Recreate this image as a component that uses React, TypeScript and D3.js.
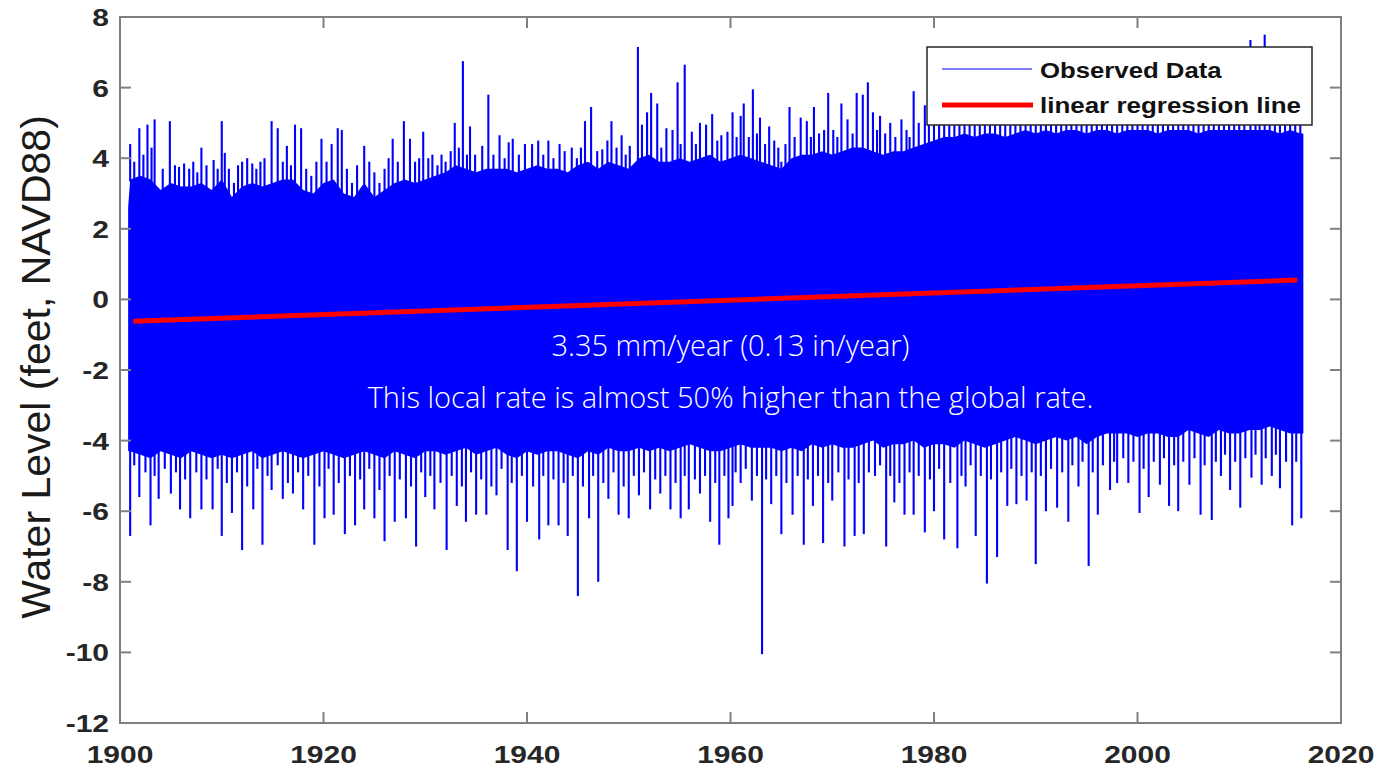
import React from "react";
import * as d3 from "d3";

// ---------- DATA ----------
const xTicks = [1900, 1920, 1940, 1960, 1980, 2000, 2020];
const yTicks = [-12, -10, -8, -6, -4, -2, 0, 2, 4, 6, 8];

// record span (decimal years)
const recordStart = 1900.8;
const recordEnd = 2016.3;
const firstYear = 1901;

// Upper edge of the dense tidal band, one value per year from 1901 (feet)
const upperFringe = [
  3.4, 3.5, 3.4, 3.1, 3.3, 3.2, 3.2, 3.3, 3.1, 3.4,
  2.9, 3.2, 3.3, 3.2, 3.3, 3.4, 3.4, 3.1, 3.0, 3.3,
  3.4, 3.0, 2.9, 3.3, 2.9, 3.1, 3.3, 3.4, 3.3, 3.4,
  3.5, 3.6, 3.8, 3.7, 3.6, 3.7, 3.7, 3.7, 3.6, 3.7,
  3.8, 3.7, 3.7, 3.6, 3.8, 3.9, 3.7, 3.9, 3.8, 3.7,
  4.0, 4.1, 3.9, 3.9, 4.0, 3.9, 4.0, 4.1, 3.9, 4.0,
  4.1, 4.0, 3.9, 3.8, 3.7, 4.0, 4.1, 4.1, 4.2, 4.1,
  4.2, 4.3, 4.3, 4.2, 4.1, 4.2, 4.2, 4.3, 4.4, 4.5,
  4.6, 4.6, 4.7, 4.6, 4.7, 4.7, 4.6, 4.7, 4.8, 4.7,
  4.8, 4.7, 4.8, 4.8, 4.7, 4.8, 4.8, 4.7, 4.8, 4.8,
  4.8, 4.7, 4.8, 4.8, 4.8, 4.7, 4.8, 4.8, 4.8, 4.8,
  4.8, 4.8, 4.8, 4.7, 4.8, 4.7,
];
// Lower edge of the dense tidal band, one value per year from 1901 (feet)
const lowerFringe = [
  -4.3, -4.4, -4.5, -4.3, -4.4, -4.5, -4.3, -4.4, -4.5, -4.4,
  -4.5, -4.4, -4.3, -4.5, -4.4, -4.3, -4.4, -4.5, -4.4, -4.3,
  -4.4, -4.5, -4.4, -4.3, -4.4, -4.5, -4.3, -4.4, -4.5, -4.3,
  -4.3, -4.4, -4.3, -4.2, -4.4, -4.3, -4.2, -4.4, -4.5, -4.3,
  -4.4, -4.3, -4.3, -4.4, -4.5, -4.3, -4.4, -4.2, -4.3, -4.3,
  -4.2, -4.3, -4.2, -4.3, -4.2, -4.1, -4.2, -4.3, -4.3, -4.2,
  -4.1, -4.2, -4.2, -4.2, -4.3, -4.2, -4.3, -4.1, -4.2, -4.1,
  -4.2, -4.2, -4.1, -4.0, -4.2, -4.1, -4.1, -4.0, -4.2, -4.1,
  -4.1, -4.2, -4.0, -4.1, -4.2, -4.1, -4.0, -3.9, -4.0, -4.1,
  -4.0, -3.9, -4.0, -3.9, -4.1, -3.9, -3.8, -3.8, -3.8, -3.9,
  -3.8, -3.8, -3.9, -3.9, -3.7, -3.8, -3.9, -3.7, -3.8, -3.8,
  -3.7, -3.7, -3.6, -3.7, -3.8, -3.8,
];

// High water spikes [year, feet]
const highTides: [number, number][] = [
  [1901.0, 4.4], [1901.4, 3.9], [1901.9, 4.85], [1902.3, 4.1], [1902.7, 4.95], [1903.1, 4.3], [1903.4, 5.1],
  [1904.2, 3.7], [1904.9, 5.05], [1905.4, 3.8], [1905.8, 3.75], [1906.3, 3.85], [1906.8, 3.7], [1907.2, 3.9],
  [1907.6, 3.6], [1908.0, 4.3], [1908.5, 3.8], [1909.2, 3.95], [1909.6, 3.7], [1910.0, 5.05], [1910.3, 4.15],
  [1910.7, 3.7], [1911.2, 3.3], [1911.6, 3.8], [1912.0, 3.9], [1912.5, 4.0], [1913.0, 3.85], [1913.4, 3.7],
  [1913.8, 3.9], [1914.2, 4.0], [1914.9, 5.05], [1915.5, 4.85], [1916.0, 3.9], [1916.4, 4.35], [1916.8, 3.8],
  [1917.2, 4.95], [1917.8, 4.85], [1918.3, 3.7], [1918.8, 3.5], [1919.3, 3.9], [1919.8, 4.55], [1920.3, 3.9],
  [1920.8, 4.4], [1921.4, 4.85], [1921.8, 4.8], [1922.3, 3.7], [1922.8, 3.3], [1923.3, 3.8], [1924.0, 4.35],
  [1924.5, 3.9], [1925.0, 3.6], [1925.5, 3.3], [1926.0, 3.7], [1926.4, 4.0], [1926.8, 4.55], [1927.3, 3.9],
  [1927.9, 5.05], [1928.5, 4.55], [1929.0, 3.9], [1929.4, 4.0], [1929.8, 4.75], [1930.3, 4.0], [1930.7, 4.1],
  [1931.2, 3.8], [1931.6, 4.1], [1932.0, 3.9], [1932.5, 4.2], [1932.9, 5.0], [1933.3, 4.3], [1933.7, 6.75],
  [1934.1, 4.1], [1934.4, 4.9], [1934.9, 4.1], [1935.6, 4.35], [1936.2, 5.8], [1936.7, 4.1], [1937.3, 4.65],
  [1937.8, 4.0], [1938.2, 4.45], [1938.6, 4.55], [1939.2, 4.1], [1939.8, 4.4], [1940.5, 4.4], [1941.1, 4.5],
  [1941.6, 4.1], [1942.1, 4.5], [1942.6, 4.0], [1943.2, 4.4], [1943.7, 4.2], [1944.4, 4.3], [1944.9, 4.0],
  [1945.3, 4.3], [1945.7, 5.05], [1946.3, 5.45], [1946.9, 4.2], [1947.4, 4.25], [1947.9, 4.5], [1948.3, 5.05],
  [1948.8, 4.3], [1949.3, 4.65], [1949.7, 4.1], [1950.1, 4.35], [1950.9, 7.15], [1951.3, 4.95], [1951.8, 5.3],
  [1952.2, 5.85], [1952.8, 5.55], [1953.2, 4.3], [1953.7, 4.85], [1954.3, 4.8], [1954.8, 6.15], [1955.1, 4.4],
  [1955.5, 6.65], [1956.2, 4.75], [1956.6, 4.4], [1957.0, 5.0], [1957.6, 4.95], [1958.2, 5.25], [1958.7, 4.5],
  [1959.1, 4.65], [1959.7, 4.75],
  [1960.2, 5.3], [1960.6, 4.6], [1961.0, 5.2], [1961.3, 5.55], [1961.8, 4.6], [1962.2, 5.95], [1962.6, 4.7],
  [1962.9, 5.15], [1963.4, 4.4], [1963.8, 4.9], [1964.3, 4.5], [1964.7, 4.3], [1965.0, 3.9], [1965.4, 4.4],
  [1965.8, 5.45], [1966.3, 4.6], [1966.9, 5.15], [1967.5, 5.05], [1967.9, 4.6], [1968.2, 5.45], [1968.7, 4.7],
  [1969.2, 4.8], [1969.6, 5.85], [1970.1, 4.8], [1970.5, 4.6], [1970.9, 5.55], [1971.5, 5.1], [1972.0, 4.7],
  [1972.4, 5.85], [1973.0, 5.8], [1973.5, 6.15], [1974.0, 5.3], [1974.4, 4.8], [1974.7, 5.2], [1975.2, 4.7],
  [1975.7, 5.0], [1976.2, 4.6], [1976.8, 5.1], [1977.3, 4.8], [1977.6, 4.6], [1978.0, 5.9], [1978.5, 5.0],
  [1979.1, 5.5], [1979.5, 5.9], [1980.0, 5.2],
  [1980.5, 5.3], [1981.0, 5.1], [1981.5, 5.6], [1982.0, 5.0], [1982.5, 5.4], [1983.0, 5.2], [1983.5, 5.5],
  [1984.0, 5.0], [1984.5, 5.3], [1985.0, 5.6], [1985.5, 5.1], [1986.0, 5.4], [1986.5, 5.0], [1987.0, 5.5],
  [1987.5, 5.2], [1988.0, 5.3], [1988.5, 5.1], [1989.0, 5.5], [1989.5, 5.2], [1990.0, 5.4], [1990.5, 5.0],
  [1991.0, 5.6], [1991.5, 5.2], [1992.0, 5.5], [1992.5, 5.3], [1993.0, 5.7], [1993.5, 5.1], [1994.0, 5.4],
  [1994.5, 5.2], [1995.0, 5.5], [1995.5, 5.1], [1996.0, 5.6], [1996.5, 5.3], [1997.0, 5.8], [1997.5, 5.2],
  [1998.0, 5.6], [1998.5, 5.4], [1999.0, 5.7], [1999.5, 5.2], [2000.0, 5.5], [2000.5, 5.3], [2001.0, 5.6],
  [2001.5, 5.2], [2002.0, 5.5], [2002.5, 5.3], [2003.0, 5.8], [2003.5, 5.4], [2004.0, 5.6], [2004.5, 5.2],
  [2005.0, 5.7], [2005.5, 5.3], [2006.0, 5.6], [2006.5, 5.4], [2007.0, 5.5], [2007.5, 5.3], [2008.0, 5.7],
  [2008.5, 5.2], [2009.0, 5.8], [2009.5, 5.4], [2010.0, 5.6], [2010.5, 5.3], [2011.1, 7.35], [2011.6, 5.5],
  [2012.0, 5.7], [2012.5, 7.5], [2013.0, 5.6], [2013.5, 5.4], [2014.0, 5.7], [2014.5, 5.3], [2015.0, 5.6],
  [2015.5, 5.5], [2016.0, 5.2],
];

// Low water spikes [year, feet]
const lowTides: [number, number][] = [
  [1901.0, -6.7], [1901.4, -4.7], [1901.9, -5.6], [1902.5, -4.9], [1903.0, -6.4], [1903.4, -5.0], [1903.8, -5.65],
  [1904.4, -4.8], [1905.0, -5.5], [1905.5, -4.9], [1905.9, -5.95], [1906.4, -5.1], [1906.9, -6.2], [1907.5, -4.9],
  [1908.0, -5.95], [1908.5, -5.1], [1909.1, -5.95], [1909.6, -4.8], [1910.0, -6.7], [1910.5, -5.2], [1911.0, -6.05],
  [1911.5, -4.9], [1912.0, -7.1], [1912.5, -5.3], [1913.1, -5.95], [1913.5, -4.8], [1914.0, -6.95], [1914.5, -5.0],
  [1914.9, -5.4], [1915.5, -4.7], [1916.0, -5.65], [1916.5, -5.2], [1917.0, -5.5], [1917.5, -4.9], [1918.0, -5.95],
  [1918.5, -5.0], [1919.1, -6.95], [1919.6, -5.3], [1920.1, -6.2], [1920.5, -4.8], [1921.0, -6.1], [1921.5, -5.2],
  [1922.1, -6.65], [1922.6, -5.0], [1923.1, -6.4], [1923.6, -5.1], [1924.0, -5.95], [1924.5, -4.8], [1925.0, -6.2],
  [1925.5, -5.4], [1926.0, -6.85], [1926.5, -5.0], [1927.0, -6.3], [1927.5, -5.1], [1928.1, -6.2], [1928.6, -5.3],
  [1929.1, -7.0], [1929.6, -4.9], [1930.0, -5.6], [1930.5, -5.0], [1930.9, -5.95], [1931.5, -5.2], [1932.1, -7.1],
  [1932.6, -5.0], [1933.1, -5.85], [1933.6, -5.3], [1934.0, -6.3], [1934.5, -4.9], [1935.0, -6.1], [1935.5, -5.1],
  [1936.0, -6.1], [1936.5, -5.3], [1937.0, -5.55], [1937.5, -4.8], [1938.1, -7.1], [1938.5, -5.2], [1939.0, -7.7],
  [1939.5, -5.0], [1940.0, -6.3], [1940.6, -5.3], [1941.2, -6.8], [1941.6, -5.0], [1942.1, -6.4], [1942.6, -5.1],
  [1943.1, -6.4], [1943.6, -5.2], [1944.0, -6.7], [1944.5, -5.0], [1945.0, -8.4], [1945.5, -5.3], [1946.1, -6.2],
  [1946.5, -5.0], [1947.0, -8.0], [1947.5, -5.2], [1948.0, -5.65], [1948.5, -4.9], [1949.0, -6.1], [1949.5, -5.3],
  [1950.0, -6.2], [1950.5, -5.0], [1951.0, -5.55], [1951.5, -4.9], [1952.1, -5.95], [1952.6, -5.1], [1953.1, -5.5],
  [1953.6, -5.0], [1954.1, -5.95], [1954.6, -5.2], [1955.1, -6.2], [1955.5, -5.0], [1955.9, -5.95], [1956.5, -5.1],
  [1957.0, -5.5], [1957.5, -5.0], [1958.0, -6.3], [1958.5, -5.2], [1958.9, -6.95], [1959.4, -5.0], [1959.8, -6.2],
  [1960.2, -5.85], [1960.5, -4.9], [1961.0, -5.2], [1961.5, -4.8], [1962.1, -5.7], [1962.6, -5.0], [1963.1, -10.05],
  [1963.5, -5.1], [1964.0, -5.8], [1964.5, -5.0], [1965.0, -6.65], [1965.5, -5.2], [1966.1, -6.1], [1966.6, -5.0],
  [1967.2, -6.95], [1967.6, -5.1], [1968.1, -5.85], [1968.6, -5.0], [1969.1, -6.9], [1969.6, -5.2], [1970.0, -5.7],
  [1970.6, -4.9], [1971.2, -7.0], [1971.6, -5.1], [1972.2, -6.7], [1972.6, -5.2], [1973.1, -6.65], [1973.6, -4.9],
  [1974.2, -5.0], [1974.7, -4.7], [1975.3, -7.0], [1975.7, -5.0], [1976.1, -5.75], [1976.6, -5.2], [1977.1, -6.1],
  [1977.6, -4.9], [1978.0, -6.1], [1978.5, -5.0], [1979.1, -6.6], [1979.6, -5.1], [1980.0, -6.0], [1980.5, -4.8],
  [1981.0, -6.8], [1981.6, -5.2], [1982.3, -7.05], [1982.7, -5.0], [1983.1, -5.3], [1983.6, -4.7], [1984.1, -6.7],
  [1984.6, -5.0], [1985.2, -8.05], [1985.6, -5.1], [1986.2, -7.3], [1986.6, -4.9], [1987.2, -5.85], [1987.6, -4.8],
  [1988.1, -5.8], [1988.6, -5.0], [1989.1, -5.7], [1989.6, -4.9], [1990.0, -7.5], [1990.5, -5.0], [1991.0, -6.0],
  [1991.5, -4.8], [1992.1, -5.9], [1992.6, -4.9], [1993.2, -6.3], [1993.6, -4.7], [1994.2, -5.3], [1994.6, -4.6],
  [1995.2, -7.55], [1995.6, -4.9], [1996.1, -6.1], [1996.6, -4.7], [1997.3, -5.4], [1997.7, -4.6], [1998.0, -5.2],
  [1998.6, -4.5], [1999.1, -5.2], [1999.6, -4.6], [2000.2, -6.05], [2000.6, -4.8], [2001.1, -5.6], [2001.6, -4.6],
  [2002.2, -5.25], [2002.6, -4.5], [2003.1, -5.85], [2003.6, -4.7], [2004.0, -6.0], [2004.5, -4.6], [2005.1, -5.25],
  [2005.6, -4.5], [2006.2, -6.1], [2006.6, -4.7], [2007.3, -6.25], [2007.7, -4.6], [2008.2, -5.0], [2008.6, -4.4],
  [2009.1, -5.4], [2009.6, -4.6], [2010.1, -5.9], [2010.6, -4.5], [2011.2, -5.05], [2011.6, -4.4], [2012.2, -5.25],
  [2012.6, -4.5], [2013.2, -5.0], [2013.6, -4.4], [2014.0, -5.35], [2014.6, -4.6], [2015.2, -6.4], [2015.6, -4.6],
  [2016.1, -6.2],
];

// Linear regression line endpoints [year, feet]
const regression: [number, number][] = [[1901.3, -0.62], [2015.7, 0.55]];

const legendLabels = ["Observed Data", "linear regression line"];
const annotation = ["3.35 mm/year (0.13 in/year)", "This local rate is almost 50% higher than the global rate."];
const yTitle = "Water Level (feet, NAVD88)";

// ---------- CHART ----------
const W = 1379, H = 768;
const L = 120, R = 1341, T = 17, B = 723;
const BLUE = "#0000ff";
const AX = "#808080";
const TXT = "#262626";

export default function App() {
  const x = d3.scaleLinear().domain([1900, 2020]).range([L, R]);
  const y = d3.scaleLinear().domain([-12, 8]).range([B, T]);

  const upPts: [number, number][] = upperFringe.map((v, i) => [firstYear + i, v]);
  const loPts: [number, number][] = lowerFringe.map((v, i) => [firstYear + i, v]);
  const upAt = d3.scaleLinear().domain(upPts.map(d => d[0])).range(upPts.map(d => d[1])).clamp(true);
  const loAt = d3.scaleLinear().domain(loPts.map(d => d[0])).range(loPts.map(d => d[1])).clamp(true);

  const top: [number, number][] = [[recordStart, 2.6], ...upPts.filter(d => d[0] < recordEnd), [recordEnd, upAt(recordEnd)]];
  const bottom: [number, number][] = [[recordStart, loAt(recordStart)], ...loPts.filter(d => d[0] < recordEnd), [recordEnd, loAt(recordEnd)]];
  const px = (d: [number, number]) => [x(d[0]), y(d[1])] as [number, number];
  const bandPath = d3.line()([...top.map(px), ...bottom.slice().reverse().map(px)]) + "Z";
  const regLine = d3.line<[number, number]>().x(d => x(d[0])).y(d => y(d[1]))(regression) || "";

  const fontTick = "'Liberation Sans', Arial, sans-serif";
  const tickLen = 11;

  return (
    <svg width={W} height={H} style={{ position: "absolute", left: 0, top: 0, background: "#fff" }}>
      <rect x={0} y={0} width={W} height={H} fill="#fff" />
      {/* data */}
      <g>
        <path d={bandPath} fill={BLUE} />
        {highTides.map((d, i) => (
          <line key={"h" + i} x1={x(d[0])} x2={x(d[0])} y1={y(Math.min(upAt(d[0]), d[1])) + 2} y2={y(d[1])}
            stroke={BLUE} strokeWidth={2.1} />
        ))}
        {lowTides.map((d, i) => (
          <line key={"l" + i} x1={x(d[0])} x2={x(d[0])} y1={y(Math.max(loAt(d[0]), d[1])) - 2} y2={y(d[1])}
            stroke={BLUE} strokeWidth={2.1} />
        ))}
      </g>
      {/* regression */}
      <path d={regLine} stroke="#ff0000" strokeWidth={5} fill="none" />

      {/* annotation */}
      <g fill="#fff" fontFamily="'Open Sans', 'Noto Sans', sans-serif" fontWeight={300} fontSize={29} textAnchor="middle">
        <text x={x(1960)} y={356}>{annotation[0]}</text>
        <text x={x(1960)} y={408}>{annotation[1]}</text>
      </g>

      {/* axes box */}
      <rect x={L} y={T} width={R - L} height={B - T} fill="none" stroke={AX} strokeWidth={2} />
      {xTicks.map(t => (
        <g key={"xt" + t}>
          <line x1={x(t)} x2={x(t)} y1={B} y2={B - tickLen} stroke={AX} strokeWidth={2} />
          <line x1={x(t)} x2={x(t)} y1={T} y2={T + tickLen} stroke={AX} strokeWidth={2} />
          <g transform={`translate(${x(t)},${B + 40}) scale(1.25,1)`}>
            <text textAnchor="middle" fontFamily={fontTick} fontWeight="bold" fontSize={24} fill={TXT}>{t}</text>
          </g>
        </g>
      ))}
      {yTicks.map(t => (
        <g key={"yt" + t}>
          <line x1={L} x2={L + tickLen} y1={y(t)} y2={y(t)} stroke={AX} strokeWidth={2} />
          <line x1={R} x2={R - tickLen} y1={y(t)} y2={y(t)} stroke={AX} strokeWidth={2} />
          <g transform={`translate(${L - 11},${y(t) + 9}) scale(1.25,1)`}>
            <text textAnchor="end" fontFamily={fontTick} fontWeight="bold" fontSize={24} fill={TXT}>{t}</text>
          </g>
        </g>
      ))}
      {/* y title */}
      <text transform={`translate(50,367) rotate(-90)`} textAnchor="middle"
        fontFamily={fontTick} fontSize={41} fill="#1a1a1a">{yTitle}</text>

      {/* legend */}
      <g>
        <rect x={927} y={47} width={385} height={78} fill="#fff" stroke="#262626" strokeWidth={1.5} />
        <line x1={942} x2={1032} y1={69} y2={69} stroke={BLUE} strokeWidth={1.2} />
        <line x1={942} x2={1033} y1={105} y2={105} stroke="#ff0000" strokeWidth={5} />
        <g transform="translate(1040,78) scale(1.17,1)">
          <text fontFamily={fontTick} fontWeight="bold" fontSize={22} fill="#111">{legendLabels[0]}</text>
        </g>
        <g transform="translate(1040,113) scale(1.18,1)">
          <text fontFamily={fontTick} fontWeight="bold" fontSize={22} fill="#111">{legendLabels[1]}</text>
        </g>
      </g>
    </svg>
  );
}
